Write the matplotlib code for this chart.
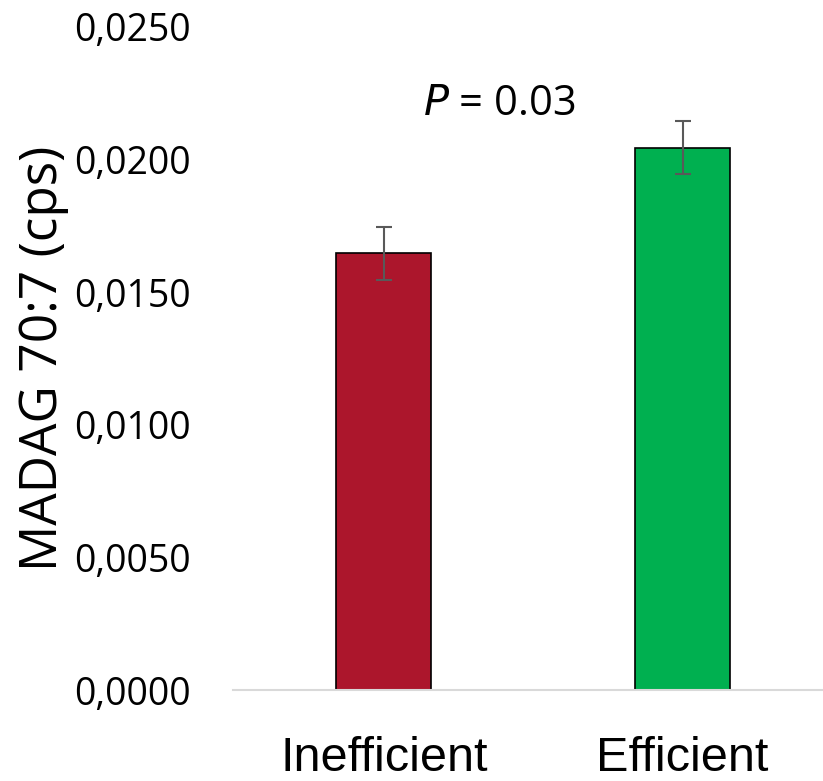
import matplotlib
matplotlib.use("Agg")
import matplotlib.pyplot as plt

# data
groups = ["Inefficient", "Efficient"]
means = [0.01647, 0.02045]
errors = [0.0010, 0.0010]
bar_colors = ["#AC162C", "#00B050"]
y_ticks = [0.0, 0.005, 0.010, 0.015, 0.020, 0.025]
y_tick_labels = ["0,0000", "0,0050", "0,0100", "0,0150", "0,0200", "0,0250"]
p_text = "$\\it{P}$ = 0.03"

fig = plt.figure(figsize=(8.23, 7.81), dpi=100)
ax = fig.add_axes([0.283, 0.1165, 0.717, 0.849])

x = list(range(len(groups)))
ax.bar(x, means, width=0.318, color=bar_colors, edgecolor="black", linewidth=1.2, zorder=2)
ax.errorbar(x, means, yerr=errors, fmt="none", ecolor="#595959",
            elinewidth=1.5, capsize=5.5, capthick=1.5, zorder=3)

ax.set_xlim(-0.505, 1.47)
ax.set_ylim(0, 0.025)
ax.set_yticks(y_ticks)
ax.set_yticklabels(y_tick_labels, fontsize=27, family="Open Sans")
ax.set_xticks(x)
ax.set_xticklabels(groups, fontsize=35, family="Liberation Sans")
ax.tick_params(axis="y", length=0, pad=30)
ax.tick_params(axis="x", length=0, pad=33)

for side in ["left", "right", "top"]:
    ax.spines[side].set_visible(False)
ax.spines["bottom"].set_color("#D9D9D9")
ax.spines["bottom"].set_linewidth(1.5)

ax.set_ylabel("MADAG 70:7 (cps)", fontsize=37, family="Open Sans", labelpad=4)

ax.text(0.385, 0.0221, p_text, fontsize=30, family="Open Sans",
        ha="center", va="center")

fig.savefig("out.png", dpi=100)
